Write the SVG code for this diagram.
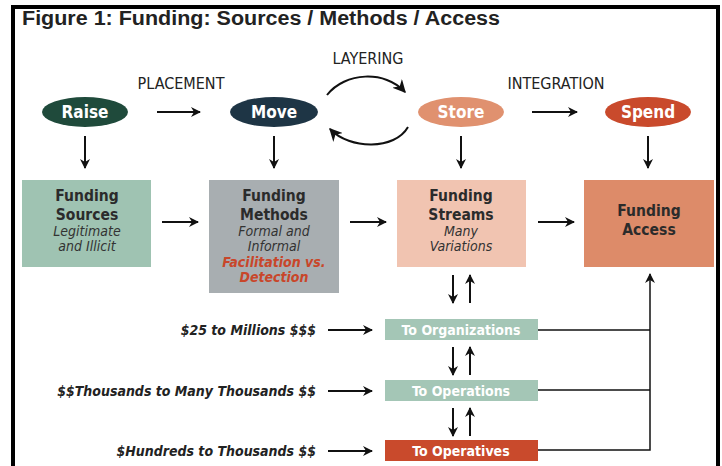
<svg xmlns="http://www.w3.org/2000/svg" width="722" height="466" viewBox="0 0 722 466">
<defs>
<marker id="ah" viewBox="0 0 10 10" refX="9" refY="5" markerWidth="10" markerHeight="10" markerUnits="userSpaceOnUse" orient="auto">
<path d="M0,0 L10,5 L0,10 L3,5 Z" fill="#111"/>
</marker>
<marker id="ahs" viewBox="0 0 10 10" refX="9" refY="5" markerWidth="13" markerHeight="13" markerUnits="userSpaceOnUse" orient="auto">
<path d="M0,0 L10,5 L0,10 L3,5 Z" fill="#111"/>
</marker>
</defs>
<style>
.cond{font-family:"Liberation Sans Narrow","DejaVu Sans Condensed","Liberation Sans",sans-serif}
.stage{font-size:16px;fill:#222;text-anchor:middle}
.ell{font-size:17px;font-weight:bold;fill:#fff;text-anchor:middle}
.hd{font-size:15.5px;font-weight:bold;fill:#2b2b2b;text-anchor:middle}
.it{font-size:14px;font-style:italic;fill:#333;text-anchor:middle}
.red{font-size:14px;font-style:italic;font-weight:bold;fill:#c8462a;text-anchor:middle}
.sm{font-size:14px;font-weight:bold;fill:#fff;text-anchor:middle}
.amt{font-size:14px;font-weight:bold;font-style:italic;fill:#222;text-anchor:end}
.ln{stroke:#111;stroke-width:2;fill:none}
</style>
<rect width="722" height="466" fill="#fff"/>
<rect x="13" y="7" width="705" height="470" fill="none" stroke="#000" stroke-width="4"/>
<text x="22" y="25" font-family="Liberation Sans,Arial,sans-serif" font-size="20" font-weight="bold" fill="#222" textLength="478" lengthAdjust="spacingAndGlyphs">Figure 1: Funding: Sources / Methods / Access</text>

<g id="labels" class="cond stage">
<text x="181" y="89">PLACEMENT</text>
<text x="368" y="64">LAYERING</text>
<text x="556" y="89">INTEGRATION</text>
</g>

<g id="raise"><ellipse cx="85" cy="112" rx="43" ry="15" fill="#1f4a3b"/><text class="cond ell" x="85" y="118">Raise</text></g>
<g id="move"><ellipse cx="274" cy="112" rx="44" ry="15" fill="#1e3545"/><text class="cond ell" x="274" y="118">Move</text></g>
<g id="store"><ellipse cx="461" cy="112" rx="43" ry="15" fill="#e0916f"/><text class="cond ell" x="461" y="118">Store</text></g>
<g id="spend"><ellipse cx="648" cy="112" rx="43" ry="15" fill="#c94a2c"/><text class="cond ell" x="648" y="118">Spend</text></g>

<g id="sources"><rect x="22" y="180" width="129" height="87" fill="#9fc3b2"/>
<text class="cond hd" x="87" y="201">Funding</text><text class="cond hd" x="87" y="220">Sources</text>
<text class="cond it" x="87" y="236">Legitimate</text><text class="cond it" x="87" y="251">and Illicit</text></g>
<g id="methods"><rect x="209" y="180" width="130" height="113" fill="#a8aeb1"/>
<text class="cond hd" x="274" y="201">Funding</text><text class="cond hd" x="274" y="220">Methods</text>
<text class="cond it" x="274" y="236">Formal and</text><text class="cond it" x="274" y="251">Informal</text>
<text class="cond red" x="274" y="267">Facilitation vs.</text><text class="cond red" x="274" y="282">Detection</text></g>
<g id="streams"><rect x="397" y="180" width="129" height="87" fill="#f1c4b1"/>
<text class="cond hd" x="461" y="201">Funding</text><text class="cond hd" x="461" y="220">Streams</text>
<text class="cond it" x="461" y="236">Many</text><text class="cond it" x="461" y="251">Variations</text></g>
<g id="access"><rect x="584" y="180" width="130" height="87" fill="#dd8b69"/>
<text class="cond hd" x="649" y="216">Funding</text><text class="cond hd" x="649" y="235">Access</text></g>

<g id="orgs"><rect x="385" y="319" width="153" height="21" fill="#a4c6b6"/><text class="cond sm" x="461" y="335">To Organizations</text></g>
<g id="ops"><rect x="385" y="380" width="153" height="21" fill="#a4c6b6"/><text class="cond sm" x="461" y="396">To Operations</text></g>
<g id="operatives"><rect x="385" y="440" width="153" height="21" fill="#c94a2c"/><text class="cond sm" x="461" y="456">To Operatives</text></g>

<g id="amounts" class="cond amt">
<text x="316" y="335">$25 to Millions $$$</text>
<text x="316" y="396">$$Thousands to Many Thousands $$</text>
<text x="316" y="456">$Hundreds to Thousands $$</text>
</g>

<g id="connectors" class="ln">
<line x1="157" y1="112" x2="200" y2="112" marker-end="url(#ah)"/>
<line x1="532" y1="112" x2="577" y2="112" marker-end="url(#ah)"/>
<path d="M327,95 C345,72 385,70 405,92" marker-end="url(#ahs)"/>
<path d="M408,127 C395,150 350,150 330,129" marker-end="url(#ahs)"/>
<line x1="85" y1="136" x2="85" y2="168" marker-end="url(#ah)"/>
<line x1="274" y1="136" x2="274" y2="168" marker-end="url(#ah)"/>
<line x1="461" y1="136" x2="461" y2="168" marker-end="url(#ah)"/>
<line x1="648" y1="136" x2="648" y2="168" marker-end="url(#ah)"/>
<line x1="162" y1="222" x2="198" y2="222" marker-end="url(#ah)"/>
<line x1="350" y1="222" x2="386" y2="222" marker-end="url(#ah)"/>
<line x1="538" y1="222" x2="574" y2="222" marker-end="url(#ah)"/>
<line x1="453" y1="275" x2="453" y2="303" marker-end="url(#ah)"/>
<line x1="470" y1="303" x2="470" y2="275" marker-end="url(#ah)"/>
<line x1="453" y1="347" x2="453" y2="375" marker-end="url(#ah)"/>
<line x1="470" y1="375" x2="470" y2="347" marker-end="url(#ah)"/>
<line x1="453" y1="408" x2="453" y2="436" marker-end="url(#ah)"/>
<line x1="470" y1="436" x2="470" y2="408" marker-end="url(#ah)"/>
<line x1="328" y1="330" x2="372" y2="330" marker-end="url(#ah)"/>
<line x1="328" y1="391" x2="372" y2="391" marker-end="url(#ah)"/>
<line x1="328" y1="451" x2="372" y2="451" marker-end="url(#ah)"/>
<polyline points="538,330 650,330" stroke-width="1.5"/>
<polyline points="538,390 650,390" stroke-width="1.5"/>
<polyline points="538,450 650,450 650,274" stroke-width="1.5" marker-end="url(#ah)"/>
</g>
</svg>
